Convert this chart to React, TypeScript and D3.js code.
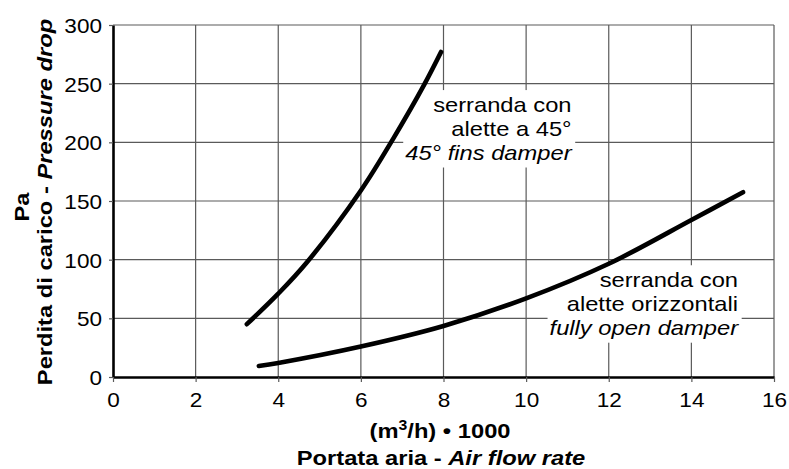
import { useEffect, useRef } from "react"
import * as d3 from "d3"

// Pressure drop curves (flow in m3/h x 1000, drop in Pa)
const flow45 = [3.24, 4.0, 4.7, 6.0, 6.78, 7.53, 7.94]
const drop45 = [45, 71, 98, 159, 203, 249, 277]
const flowOpen = [3.53, 4.0, 6.0, 8.0, 10.0, 12.0, 14.0, 15.25]
const dropOpen = [9.4, 12, 26, 43.5, 67, 96.5, 133.8, 157.5]

const xTicks = [0, 2, 4, 6, 8, 10, 12, 14, 16]
const yTicks = [0, 50, 100, 150, 200, 250, 300]

const label45 = ["serranda con", "alette a 45°"]
const label45En = "45° fins damper"
const labelOpen = ["serranda con", "alette orizzontali"]
const labelOpenEn = "fully open damper"

const WIDTH = 789
const HEIGHT = 469
const FONT = '"Liberation Sans", Arial, Helvetica, sans-serif'
const SX = 1.13 // the original typeface runs a bit wider than Arial
const GRID = "#5a5a5a"

const App = () => {
  const svgRef = useRef<SVGSVGElement | null>(null)

  useEffect(() => {
    if (!svgRef.current) return
    const svg = d3.select(svgRef.current)
    svg.selectAll("*").remove()

    const margin = { top: 25, right: 15, bottom: 92, left: 113 }
    const x = d3.scaleLinear().domain([0, 16]).range([margin.left, WIDTH - margin.right])
    const y = d3.scaleLinear().domain([0, 300]).range([HEIGHT - margin.bottom, margin.top])

    svg.append("rect").attr("width", WIDTH).attr("height", HEIGHT).attr("fill", "#fff")

    // grid
    const grid = svg.append("g").attr("stroke", GRID).attr("stroke-width", 1.2)
    grid
      .selectAll("line.v")
      .data(xTicks.filter((d) => d > 0))
      .join("line")
      .attr("x1", (d) => x(d))
      .attr("x2", (d) => x(d))
      .attr("y1", y(0))
      .attr("y2", y(300))
    grid
      .selectAll("line.h")
      .data(yTicks.filter((d) => d > 0))
      .join("line")
      .attr("x1", x(0))
      .attr("x2", x(16))
      .attr("y1", (d) => y(d))
      .attr("y2", (d) => y(d))

    // annotation groups (white boxes drawn behind the curves)
    const boxLayer = svg.append("g")
    const curveLayer = svg.append("g")
    const labelLayer = svg.append("g").attr("font-family", FONT).attr("font-size", 21).attr("fill", "#000")

    const addLabel = (ax: number, ay: number, lines: string[], en: string) => {
      const g = labelLayer.append("g")
      const all = [...lines, en]
      all.forEach((t, i) => {
        g.append("text")
          .attr("text-anchor", "end")
          .attr("font-style", i === all.length - 1 ? "italic" : "normal")
          .attr("transform", `translate(${x(ax)},${y(ay) + i * 24}) scale(${SX},1)`)
          .text(t)
      })
      const bb = (g.node() as SVGGElement).getBBox()
      boxLayer
        .append("rect")
        .attr("x", bb.x - 2)
        .attr("y", bb.y - 3)
        .attr("width", bb.width + 4)
        .attr("height", bb.height + 6)
        .attr("fill", "#fff")
    }
    addLabel(11.1, 226, label45, label45En)
    addLabel(15.13, 76.7, labelOpen, labelOpenEn)

    // axes
    const xAxis = svg
      .append("g")
      .attr("transform", `translate(0,${y(0)})`)
      .call(d3.axisBottom(x).tickValues(xTicks).tickSize(5).tickSizeOuter(0).tickPadding(10.8))
    const yAxis = svg
      .append("g")
      .attr("transform", `translate(${x(0)},0)`)
      .call(d3.axisLeft(y).tickValues(yTicks).tickSize(4).tickSizeOuter(0).tickPadding(5.7))
    ;[xAxis, yAxis].forEach((ax) => {
      ax.attr("font-family", FONT).attr("font-size", 20)
      ax.select(".domain").attr("stroke", "#000").attr("stroke-width", 2.6)
      ax.selectAll(".tick line").attr("stroke", GRID).attr("stroke-width", 1.2)
      ax.selectAll(".tick text").attr("fill", "#000").attr("transform", `scale(${SX},1)`)
    })
    yAxis.selectAll(".tick text").attr("dy", "0.38em")
    yAxis.raise()
    xAxis.raise()

    // curves
    const line = d3
      .line<[number, number]>()
      .x((d) => x(d[0]))
      .y((d) => y(d[1]))
      .curve(d3.curveCatmullRom.alpha(0.5))
    const series: [number, number][][] = [
      flow45.map((f, i) => [f, drop45[i]]),
      flowOpen.map((f, i) => [f, dropOpen[i]]),
    ]
    curveLayer
      .selectAll("path")
      .data(series)
      .join("path")
      .attr("d", (d) => line(d))
      .attr("fill", "none")
      .attr("stroke", "#000")
      .attr("stroke-width", 4.6)
      .attr("stroke-linecap", "round")
    curveLayer.raise()
    labelLayer.raise()

    // axis titles
    const titles = svg.append("g").attr("font-family", FONT).attr("font-size", 21).attr("font-weight", "bold")
    const t1 = titles
      .append("text")
      .attr("text-anchor", "middle")
      .attr("transform", `translate(440,438) scale(${SX},1)`)
    t1.append("tspan").text("(m")
    t1.append("tspan").attr("font-size", 14).attr("dy", -8).text("3")
    t1.append("tspan").attr("dy", 8).text("/h) • 1000")
    const t2 = titles
      .append("text")
      .attr("text-anchor", "middle")
      .attr("transform", `translate(441,465) scale(${SX},1)`)
    t2.append("tspan").text("Portata aria - ")
    t2.append("tspan").attr("font-style", "italic").text("Air flow rate")

    titles
      .append("text")
      .attr("text-anchor", "middle")
      .attr("transform", `translate(29,207) rotate(-90) scale(${SX},1)`)
      .text("Pa")
    const t3 = titles
      .append("text")
      .attr("text-anchor", "middle")
      .attr("transform", `translate(52,202) rotate(-90) scale(${SX},1)`)
    t3.append("tspan").text("Perdita di carico - ")
    t3.append("tspan").attr("font-style", "italic").text("Pressure drop")
  }, [])

  return (
    <svg
      ref={svgRef}
      width={WIDTH}
      height={HEIGHT}
      style={{ position: "absolute", left: 0, top: 0, display: "block" }}
    />
  )
}

export default App
